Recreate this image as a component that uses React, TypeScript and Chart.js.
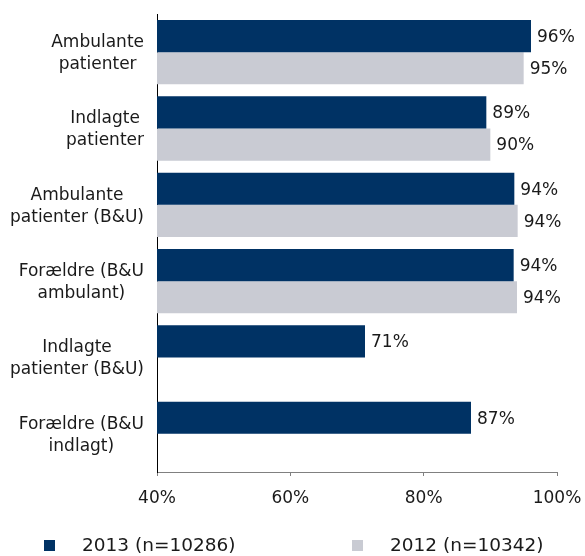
import React, { useEffect, useRef } from "react";
import { Chart, registerables } from "chart.js";

Chart.register(...registerables);

const categories: string[][] = [
  ["Ambulante", "patienter"],
  ["Indlagte", "patienter"],
  ["Ambulante", "patienter (B&U)"],
  ["Forældre (B&U", "ambulant)"],
  ["Indlagte", "patienter (B&U)"],
  ["Forældre (B&U", "indlagt)"],
];
const series2013: (number | null)[] = [96.1, 89.4, 93.6, 93.5, 71.2, 87.1];
const series2012: (number | null)[] = [95.0, 90.0, 94.1, 94.0, null, null];
const seriesLabels = ["2013 (n=10286)", "2012 (n=10342)"];
const xTicks = [40, 60, 80, 100];

const FONT = '"DejaVu Sans", Verdana, sans-serif';
const TEXT = "#1a1a1a";
const NAVY = "#003264";
const GRAY = "#C9CBD3";

const textPlugin = {
  id: "textPlugin",
  afterDraw(chart: any) {
    const ctx = chart.ctx as CanvasRenderingContext2D;
    const yScale = chart.scales.y;
    const area = chart.chartArea;
    ctx.save();
    ctx.fillStyle = TEXT;
    ctx.textBaseline = "middle";

    // category labels: each block centred on its widest line, right edge near axis
    ctx.font = `17px ${FONT}`;
    ctx.textAlign = "center";
    const right = area.left - 13;
    const lh = 22;
    categories.forEach((lines, i) => {
      const cy = yScale.getPixelForValue(i) + 1.5;
      const maxW = Math.max(...lines.map((l) => ctx.measureText(l).width));
      const cx = right - maxW / 2;
      lines.forEach((l, j) => {
        ctx.fillText(l, cx, cy + (j - (lines.length - 1) / 2) * lh);
      });
    });

    // value labels
    ctx.textAlign = "left";
    chart.data.datasets.forEach((ds: any, di: number) => {
      const meta = chart.getDatasetMeta(di);
      meta.data.forEach((el: any, i: number) => {
        const v = ds.data[i];
        if (v == null || !isFinite(el.x)) return;
        ctx.fillText(`${Math.round(v)}%`, el.x + 6, el.y + 1.5);
      });
    });

    // legend
    ctx.font = `18.5px ${FONT}`;
    const ly = chart.height - 11;
    const boxX = [44, 352];
    chart.data.datasets.forEach((ds: any, di: number) => {
      ctx.fillStyle = ds.backgroundColor;
      ctx.fillRect(boxX[di], ly - 5, 11, 11);
      ctx.fillStyle = TEXT;
      ctx.fillText(ds.label, boxX[di] + 38, ly + 1);
    });
    ctx.restore();
  },
};

export default function App() {
  const ref = useRef<HTMLCanvasElement | null>(null);
  useEffect(() => {
    if (!ref.current) return;
    const chart = new Chart(ref.current, {
      type: "bar",
      data: {
        labels: categories,
        datasets: [
          {
            label: seriesLabels[0],
            data: series2013,
            backgroundColor: NAVY,
            categoryPercentage: 0.842,
            barPercentage: 1,
          },
          {
            label: seriesLabels[1],
            data: series2012,
            backgroundColor: GRAY,
            categoryPercentage: 0.842,
            barPercentage: 1,
          },
        ],
      },
      options: {
        indexAxis: "y",
        animation: false,
        responsive: false,
        layout: { padding: { left: 0, right: 28, top: 14, bottom: 44 } },
        plugins: {
          legend: { display: false },
          tooltip: { enabled: false },
        },
        scales: {
          x: {
            min: 40,
            max: 100,
            afterBuildTicks: (s: any) => {
              s.ticks = xTicks.map((v) => ({ value: v }));
            },
            ticks: {
              callback: (v: any) => `${v}%`,
              font: { family: FONT, size: 17 },
              color: TEXT,
              padding: 12,
              maxRotation: 0,
            },
            grid: {
              drawOnChartArea: false,
              drawTicks: true,
              tickLength: 4,
              color: "#808080",
            },
            border: { display: true, color: "#808080", width: 1 },
            afterFit: (s: any) => {
              s.height = 40;
              s.paddingLeft = 0;
              s.paddingRight = 0;
            },
          },
          y: {
            ticks: { display: false },
            grid: { display: false, drawTicks: false },
            border: { display: true, color: "#000000", width: 1 },
            afterFit: (s: any) => {
              s.width = 157;
            },
          },
        },
      } as any,
      plugins: [textPlugin],
    });
    return () => chart.destroy();
  }, []);
  return (
    <div style={{ position: "fixed", left: 0, top: 0, width: 585, height: 556, background: "#fff" }}>
      <canvas ref={ref} width={585} height={556} />
    </div>
  );
}
